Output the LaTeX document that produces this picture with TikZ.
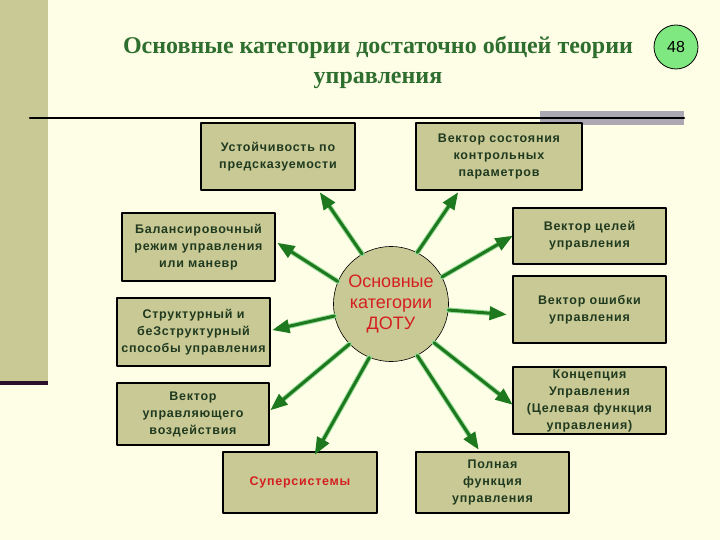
\documentclass[tikz,border=0pt]{standalone}
\usepackage{fontspec}
\setmainfont{Liberation Serif}
\setsansfont{Liberation Sans}
\newfontfamily\boxfont[LetterSpace=6]{Liberation Sans}
\usepackage{xcolor}
\usetikzlibrary{arrows}
\definecolor{bgcream}{HTML}{FEFEE6}
\definecolor{khaki}{HTML}{C9C995}
\definecolor{stripline}{HTML}{2A0F2A}
\definecolor{graybar}{HTML}{ABA8B3}
\definecolor{titlegreen}{HTML}{2E6E2E}
\definecolor{boxtext}{HTML}{1F3A1F}
\definecolor{numgreen}{HTML}{80E880}
\definecolor{redtext}{HTML}{D42020}
\definecolor{raygreen}{HTML}{1E781E}
\definecolor{rayglow}{HTML}{96DC96}
\begin{document}
\begin{tikzpicture}[line cap=round,line join=round,>=triangle 45,x=1pt,y=-1pt,
  box/.style={draw=black,line width=1.2pt,fill=khaki,minimum width=153pt,minimum height=67pt,
    inner sep=0pt,align=center,text=boxtext,font=\boxfont\bfseries\fontsize{12.5}{17}\selectfont},
  ray/.style={->,line width=3pt,draw=raygreen,preaction={-,draw=rayglow,line width=5pt,shorten >=6pt}}]
\useasboundingbox (0,0) rectangle (720,540);
\fill [bgcream] (0,0) rectangle (720,540);
\fill [khaki] (0,0) rectangle (48,381);
\fill [stripline] (0,381) rectangle (48,385);
\fill [graybar] (540,111) rectangle (684,125);
\draw [line width=2.5pt] (30,118)-- (684,118);
\node [text=titlegreen,align=center,font=\bfseries\fontsize{24}{30}\selectfont] (title) at (378,63)
  {Основные категории достаточно общей теории\\управления};
\node [circle,draw,line width=0.8pt,fill=numgreen,minimum size=44pt,inner sep=0pt,
  font=\sffamily\fontsize{16}{16}\selectfont] (num) at (676,47) {48};
\node [box,minimum width=154pt] (b1) at (278,156.5) {Устойчивость по\\предсказуемости};
\node [box,minimum width=166pt] (b2) at (499,156.5) {Вектор состояния\\контрольных\\параметров};
\node [box,minimum height=68pt] (b3) at (198.5,247) {Балансировочный\\режим управления\\или маневр};
\node [box,minimum height=68pt] (b4) at (193.5,332) {Структурный и\\беЗструктурный\\способы управления};
\node [box,minimum width=152pt,minimum height=62pt] (b5) at (193,414) {Вектор\\управляющего\\воздействия};
\node [box,minimum width=154pt,minimum height=61pt,text=redtext] (b6) at (300,482.5) {Суперсистемы};
\node [box,minimum height=61pt] (b7) at (492.5,482.5) {Полная\\функция\\управления};
\node [box,minimum height=56pt] (b8) at (589.5,236) {Вектор целей\\управления};
\node [box] (b9) at (589.5,309.5) {Вектор ошибки\\управления};
\node [box] (b10) at (589.5,400.5) {Концепция\\Управления\\(Целевая функция\\управления)};
\node [circle,draw,line width=0.6pt,fill=khaki,minimum size=115pt,inner sep=0pt,align=center,
  text=redtext,font=\sffamily\fontsize{18}{21}\selectfont] (c) at (391,304) {Основные\\категории\\ДОТУ};
\draw [ray] (c.120)-- ([xshift=42pt,yshift=-2pt]b1.south);
\draw [ray] (c.63)-- ([xshift=-41pt,yshift=-2pt]b2.south);
\draw [ray] (c.157)-- ([xshift=2pt,yshift=4pt]b3.east);
\draw [ray] (c.192)-- ([xshift=2pt,yshift=2pt]b4.east);
\draw [ray] (c.224)-- ([xshift=1pt,yshift=4pt]b5.east);
\draw [ray] (c.248)-- ([xshift=15pt,yshift=-3pt]b6.north);
\draw [ray] (c.297)-- ([xshift=-14pt,yshift=2pt]b7.north);
\draw [ray] (c.28)-- (b8.west);
\draw [ray] (c.354)-- ([xshift=-6pt,yshift=-5pt]b9.west);
\draw [ray] (c.318)-- ([yshift=-4pt]b10.west);
\end{tikzpicture}
\end{document}
